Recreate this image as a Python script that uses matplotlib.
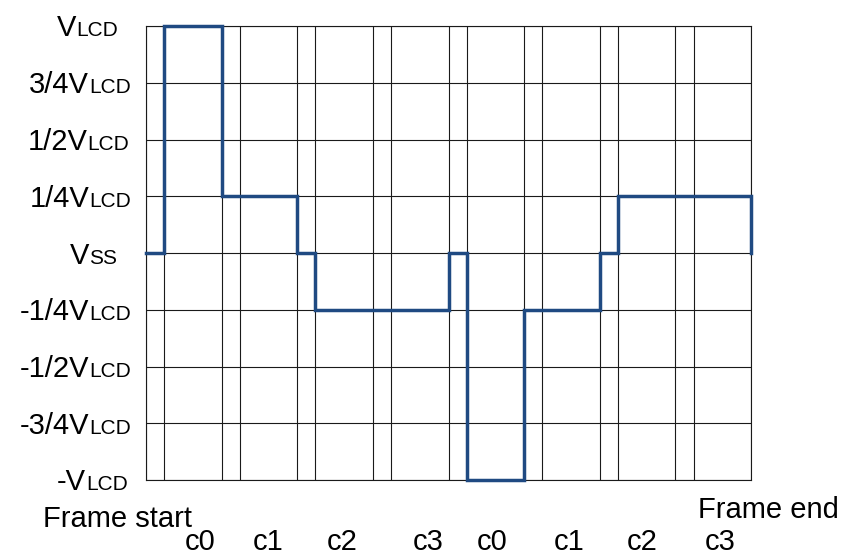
import matplotlib
matplotlib.use('Agg')
import matplotlib.pyplot as plt
from matplotlib import transforms as mtransforms

plt.rcParams['font.family'] = ['Liberation Sans', 'DejaVu Sans']

# voltage levels on the y axis
levels = [1, 0.75, 0.5, 0.25, 0, -0.25, -0.5, -0.75, -1]
level_main = ['V', '3/4V', '1/2V', '1/4V', 'V', '-1/4V', '-1/2V', '-3/4V', '-V']
level_sub = ['LCD', 'LCD', 'LCD', 'LCD', 'SS', 'LCD', 'LCD', 'LCD', 'LCD']
label_right_px = [118, 131, 129, 131, 117, 131, 131, 131, 128]

# waveform: edges of each step and the level held in it
step_edges = [0, 0.24, 1, 2, 2.24, 4, 4.24, 5, 6, 6.24, 8]
step_levels = [0, 1, 0.25, 0, -0.25, 0, -1, -0.25, 0, 0.25]
end_level = 0

# common phases along the bottom
com_labels = ['c0', 'c1', 'c2', 'c3', 'c0', 'c1', 'c2', 'c3']
com_pos = [0.72, 1.61, 2.59, 3.73, 4.58, 5.6, 6.56, 7.59]
n_slots = 8
sub_offset = 0.24

W, H = 852, 556
fig = plt.figure(figsize=(W / 100, H / 100), dpi=100)
ax = fig.add_axes([146 / W, 1 - 480 / H, 605 / W, 454 / H])
ax.set_xlim(0, n_slots)
ax.set_ylim(-1, 1)

grid_kw = dict(color='#1a1a1a', lw=0.8, zorder=1)
for lv in levels:
    ax.axhline(lv, **grid_kw)
for k in range(n_slots + 1):
    ax.axvline(k, **grid_kw)
for k in range(n_slots):
    ax.axvline(k + sub_offset, **grid_kw)

for s in ax.spines.values():
    s.set_color('#1a1a1a')
    s.set_linewidth(0.8)
ax.set_xticks([])
ax.set_yticks([])

ax.step(step_edges, step_levels + [end_level], where='post',
        color='#1f4a82', lw=2.5, zorder=3, clip_on=False,
        solid_joinstyle='miter')

# y labels: big main text plus smaller suffix on the same baseline
ypix = mtransforms.blended_transform_factory(mtransforms.IdentityTransform(), ax.transData)
smalls = []
for lv, s, r in zip(levels, level_sub, label_right_px):
    tr = mtransforms.offset_copy(ypix, fig=fig, x=0, y=-10.5, units='dots')
    t = ax.text(r, lv, s, transform=tr, ha='right', va='baseline', fontsize=15)
    smalls.append(t)

fig.canvas.draw()
renderer = fig.canvas.get_renderer()
for lv, m, t in zip(levels, level_main, smalls):
    x0 = t.get_window_extent(renderer).x0
    tr = mtransforms.offset_copy(ypix, fig=fig, x=0, y=-10.5, units='dots')
    ax.text(x0, lv, m, transform=tr, ha='right', va='baseline', fontsize=21)

# c labels below the axes
ctr = mtransforms.blended_transform_factory(ax.transData, fig.transFigure)
for p, c in zip(com_pos, com_labels):
    ax.text(p, 1 - 550 / H, c, transform=ctr, fontsize=21,
            ha='center', va='baseline')

fig.text(43 / W, 1 - 527 / H, 'Frame start', fontsize=21, ha='left', va='baseline')
fig.text(698 / W, 1 - 518 / H, 'Frame end', fontsize=21, ha='left', va='baseline')

fig.savefig('out.png', dpi=100)
